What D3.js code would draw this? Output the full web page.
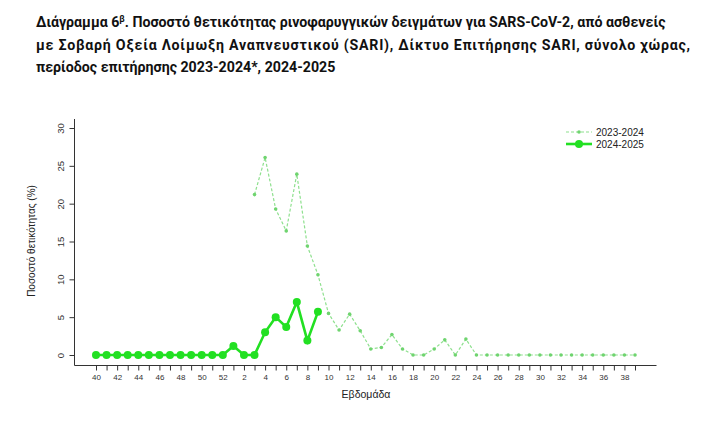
<!DOCTYPE html>
<html><head><meta charset="utf-8">
<script src="https://cdn.jsdelivr.net/npm/d3@7"></script>
<style>body{margin:0;background:#fff}svg{display:block}</style>
</head><body>
<svg id="c" width="728" height="436"></svg>
<script>
const weeks = ["40","41","42","43","44","45","46","47","48","49","50","51","52","1","2","3","4","5","6","7","8","9","10","11","12","13","14","15","16","17","18","19","20","21","22","23","24","25","26","27","28","29","30","31","32","33","34","35","36","37","38","39"];
const tickLabels = ["40","42","44","46","48","50","52","2","4","6","8","10","12","14","16","18","20","22","24","26","28","30","32","34","36","38"];
const yTicks = [0,5,10,15,20,25,30];
const series2324 = [null,null,null,null,null,null,null,null,null,null,null,null,null,null,null,21.2,26.1,19.3,16.4,23.9,14.4,10.6,5.5,3.3,5.4,3.2,0.8,1.0,2.7,0.8,0,0,0.8,2.0,0,2.1,0,0,0,0,0,0,0,0,0,0,0,0,0,0,0,0];
const series2425 = [0,0,0,0,0,0,0,0,0,0,0,0,0,1.2,0,0,3.0,5.0,3.7,7.0,1.9,5.7,null,null,null,null,null,null,null,null,null,null,null,null,null,null,null,null,null,null,null,null,null,null,null,null,null,null,null,null,null,null];
const seriesNames = ["2023-2024","2024-2025"];
const titleLines = ["Διάγραμμα 6","β",". Ποσοστό θετικότητας ρινοφαρυγγικών δειγμάτων για SARS-CoV-2, από ασθενείς","με Σοβαρή Οξεία Λοίμωξη Αναπνευστικού (SARI), Δίκτυο Επιτήρησης SARI, σύνολο χώρας,","περίοδος επιτήρησης 2023-2024*, 2024-2025"];

const svg = d3.select("#c");
const font = "'Liberation Sans', Arial, sans-serif";
const c1 = "#8ee08e", c1p = "#6fd46f", c2 = "#22e022";

// title
const tf = "Roboto, 'Noto Sans', sans-serif";
const tsz = 14.2;
const t1 = svg.append("text").attr("x",36).attr("y",27).attr("font-family",tf).attr("font-weight","bold").attr("font-size",tsz).attr("fill","#111");
t1.append("tspan").text(titleLines[0]);
t1.append("tspan").attr("dy",-5).attr("font-size",9).text(titleLines[1]);
t1.append("tspan").attr("dy",5).text(titleLines[2]);
svg.append("text").attr("x",36).attr("y",50).attr("font-family",tf).attr("font-weight","bold").attr("font-size",tsz).attr("fill","#111")
  .attr("textLength",654).attr("lengthAdjust","spacing").text(titleLines[3]);
svg.append("text").attr("x",36).attr("y",72).attr("font-family",tf).attr("font-weight","bold").attr("font-size",tsz).attr("fill","#111")
  .text(titleLines[4]);

const x = d3.scalePoint().domain(weeks).range([96,635]);
const y = d3.scaleLinear().domain([0,30]).range([355,128]);

// frame (L shape)
svg.append("path").attr("d","M74.5,119V365.5H656.5").attr("fill","none").attr("stroke","#333").attr("stroke-width",1);

// y axis
const ya = svg.append("g").attr("transform","translate(74.5,0)")
  .call(d3.axisLeft(y).tickValues(yTicks).tickSize(5).tickPadding(6));
ya.select(".domain").remove();
ya.selectAll("line").attr("stroke","#333");
ya.selectAll("text").attr("font-family",font).attr("font-size",9.5).attr("fill","#333")
  .attr("x",-14).attr("dy","0.32em").attr("text-anchor","middle").attr("transform","rotate(-90,-14,0)");

// x axis
const xa = svg.append("g").attr("transform","translate(0,365.5)")
  .call(d3.axisBottom(x).tickSize(5).tickPadding(4).tickFormat(d=>tickLabels.includes(d)?d:""));
xa.select(".domain").remove();
xa.selectAll("line").attr("stroke","#333");
xa.selectAll("text").attr("font-family",font).attr("font-size",8).attr("fill","#333");

// axis titles
svg.append("text").attr("x",366).attr("y",398).attr("text-anchor","middle").attr("font-family",font).attr("font-size",10.5).attr("fill","#222").text("Εβδομάδα");
svg.append("text").attr("transform","translate(35,241) rotate(-90)").attr("text-anchor","middle").attr("font-family",font).attr("font-size",10).attr("fill","#222").text("Ποσοστό θετικότητας (%)");

const line = d3.line().defined(d=>d.v!=null).x(d=>x(d.w)).y(d=>y(d.v));
const d1 = weeks.map((w,i)=>({w,v:series2324[i]}));
const d2 = weeks.map((w,i)=>({w,v:series2425[i]}));

svg.append("path").datum(d1).attr("d",line).attr("fill","none").attr("stroke",c1).attr("stroke-width",1.2).attr("stroke-dasharray","3,2");
svg.selectAll(".p1").data(d1.filter(d=>d.v!=null)).enter().append("circle")
  .attr("cx",d=>x(d.w)).attr("cy",d=>y(d.v)).attr("r",1.8).attr("fill",c1p);

svg.append("path").datum(d2).attr("d",line).attr("fill","none").attr("stroke",c2).attr("stroke-width",2.6);
svg.selectAll(".p2").data(d2.filter(d=>d.v!=null)).enter().append("circle")
  .attr("cx",d=>x(d.w)).attr("cy",d=>y(d.v)).attr("r",4).attr("fill",c2);

// legend
const lg = svg.append("g");
lg.append("line").attr("x1",566).attr("x2",592).attr("y1",132).attr("y2",132).attr("stroke",c1).attr("stroke-width",1.2).attr("stroke-dasharray","3,2");
lg.append("circle").attr("cx",579).attr("cy",132).attr("r",1.8).attr("fill",c1p);
lg.append("line").attr("x1",566).attr("x2",592).attr("y1",144).attr("y2",144).attr("stroke",c2).attr("stroke-width",2.6);
lg.append("circle").attr("cx",579).attr("cy",144).attr("r",4).attr("fill",c2);
lg.selectAll(".lt").data(seriesNames).enter().append("text").attr("x",596).attr("y",(d,i)=>132+i*12).attr("dy","0.35em")
  .attr("font-family",font).attr("font-size",10).attr("fill","#222").text(d=>d);
</script>
</body></html>
